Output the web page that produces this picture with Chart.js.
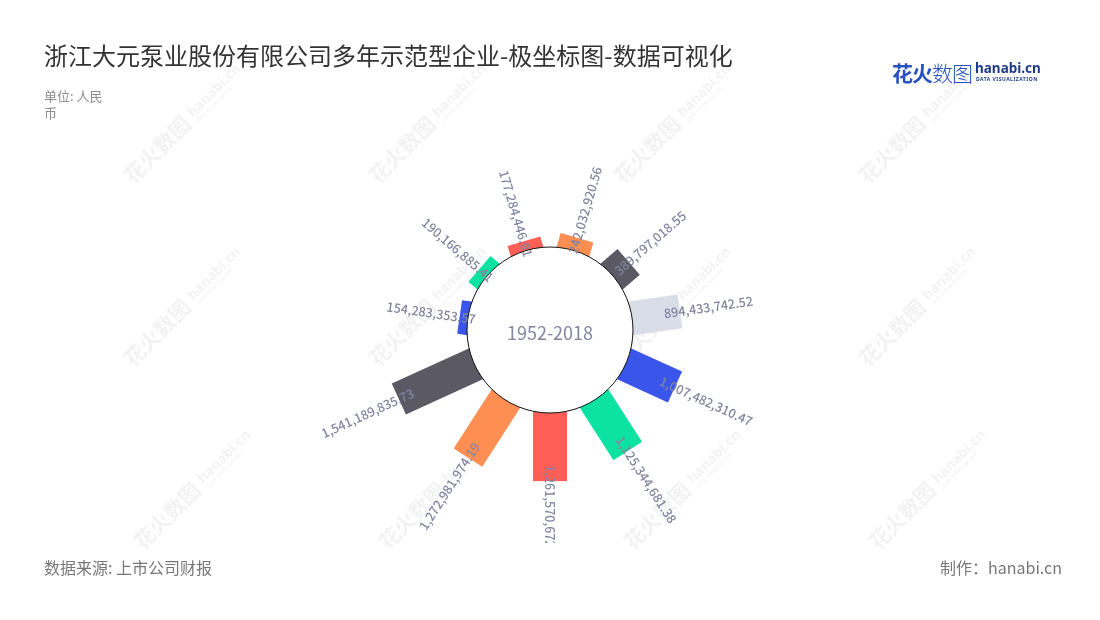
<!DOCTYPE html>
<html lang="zh">
<head>
<meta charset="utf-8">
<title>浙江大元泵业股份有限公司多年示范型企业-极坐标图</title>
<script src="https://cdn.jsdelivr.net/npm/chart.js@4.4.1/dist/chart.umd.min.js"></script>
<style>
  html, body { margin: 0; padding: 0; background: #fff; }
  body {
    width: 1100px; height: 620px; position: relative; overflow: hidden;
    font-family: "Noto Sans CJK SC", "Noto Sans", sans-serif;
  }
  #wrap { position: absolute; left: 0; top: 0; width: 1100px; height: 620px; }
  .txt { position: absolute; white-space: nowrap; }
  .title { left: 44px; top: 38px; font-size: 24px; line-height: 34px; color: #333; }
  .unit { left: 44px; top: 87px; width: 66px; font-size: 13px; line-height: 17px; color: #8c8c8c; white-space: normal; }
  .source { left: 44px; top: 556px; font-size: 16px; line-height: 22px; color: #777; }
  .maker { right: 38px; top: 556px; font-size: 16px; line-height: 22px; color: #777; }
  .logo-cn { left: 892px; top: 58px; font-size: 21px; line-height: 28px; color: #2a52be; font-weight: bold; letter-spacing: -1px; }
  .logo-cn span { font-weight: 300; }
  .logo-en { left: 975px; top: 59px; font-size: 13.5px; line-height: 18px; color: #1f3c88; font-weight: bold; font-family: "Noto Sans", sans-serif; }
  .logo-sub { left: 976px; top: 76px; font-size: 5px; line-height: 7px; color: #1f3c88; letter-spacing: 0.5px; font-family: "Noto Sans", sans-serif; font-weight: bold; }
</style>
</head>
<body>
<div id="wrap"><canvas id="polarChart"></canvas></div>
<div class="txt title">浙江大元泵业股份有限公司多年示范型企业-极坐标图-数据可视化</div>
<div class="txt unit">单位: 人民币</div>
<div class="txt source">数据来源: 上市公司财报</div>
<div class="txt maker">制作：hanabi.cn</div>
<div class="txt logo-cn">花火<span>数图</span></div>
<div class="txt logo-en">hanabi.cn</div>
<div class="txt logo-sub">DATA VISUALIZATION</div>
<script>
// Data, clockwise from 12 o'clock
const categories = ['1', '2', '3', '4', '5', '6', '7', '8', '9', '10', '11'];
const values = [
    242032920.56, 389797018.55, 894433742.52, 1007482310.47, 1125344681.38,
    1261570672.36, 1272981974.19, 1541189835.73, 154283353.57, 190166885.41,
    177284446.91
];
const barColors = [
    '#ff8e52', '#5b5a64', '#d9dde8', '#3a56ea', '#0ce2a1', '#ff5f57',
    '#ff8e52', '#5b5a64', '#3a56ea', '#0ce2a1', '#ff5f57'
];
const centerLabel = '1952-2018';

// radial axis range: value 0 sits on the inner circle
const R_MIN = -1537000000;
const R_MAX = 3463000000;
const BAR_WIDTH = 34;
const LABEL_COLOR = '#8385a0';

const ArcElement = Chart.registry.getElement('arc');
const PolarAreaController = Chart.registry.getController('polarArea');

// Straight radial bar instead of a wedge
class RadialBarElement extends ArcElement {
    static id = 'radialBar';
    draw(ctx) {
        const { x, y, startAngle, endAngle, outerRadius, options } = this;
        const base = (this.baseRadius || 0) - 5;
        if (outerRadius <= base) return;
        const mid = (startAngle + endAngle) / 2;
        ctx.save();
        ctx.translate(x, y);
        ctx.rotate(mid);
        ctx.fillStyle = options.backgroundColor;
        ctx.fillRect(base, -BAR_WIDTH / 2, outerRadius - base, BAR_WIDTH);
        ctx.restore();
    }
}

class RadialBarController extends PolarAreaController {
    static id = 'radialBar';
    static defaults = { dataElementType: 'radialBar' };
    updateElements(arcs, start, count, mode) {
        super.updateElements(arcs, start, count, mode);
        const scale = this._cachedMeta.rScale;
        const base = scale.getDistanceFromCenterForValue(0);
        for (let i = start; i < start + count; i++) {
            arcs[i].baseRadius = base;
        }
    }
}

Chart.register(RadialBarElement, RadialBarController);

function fmt(v) {
    return v.toLocaleString('en-US', { minimumFractionDigits: 2, maximumFractionDigits: 2 });
}

// Faint brand watermark behind the bars
const watermark = {
    id: 'watermark',
    beforeDatasetsDraw(chart) {
        const ctx = chart.ctx;
        ctx.save();
        ctx.fillStyle = 'rgba(0, 0, 0, 0.05)';
        for (let j = 0; j < 3; j++) {
            for (let i = 0; i < 4; i++) {
                ctx.save();
                ctx.translate(133 + 245 * i + (j === 2 ? 10 : 0), 185 + 183 * j);
                ctx.rotate(-Math.PI / 4);
                ctx.font = 'bold 21px "Noto Sans CJK SC"';
                ctx.textBaseline = 'alphabetic';
                ctx.fillText('花火数图', 0, 0);
                ctx.font = 'bold 14px "Noto Sans"';
                ctx.fillText('hanabi.cn', 90, -5);
                ctx.font = 'bold 4.5px "Noto Sans"';
                ctx.fillText('DATA VISUALIZATION', 91, 2);
                ctx.restore();
            }
        }
        ctx.restore();
    }
};

// Inner circle, center text and value labels
const decorations = {
    id: 'decorations',
    afterDatasetsDraw(chart) {
        const ctx = chart.ctx;
        const scale = chart.scales.r;
        const cx = scale.xCenter, cy = scale.yCenter;
        const base = scale.getDistanceFromCenterForValue(0);

        ctx.save();
        ctx.beginPath();
        ctx.arc(cx, cy, base, 0, Math.PI * 2);
        ctx.fillStyle = '#fff';
        ctx.fill();
        ctx.lineWidth = 1;
        ctx.strokeStyle = '#111';
        ctx.stroke();

        ctx.fillStyle = LABEL_COLOR;
        ctx.font = '18px "Noto Sans CJK SC"';
        ctx.textAlign = 'center';
        ctx.textBaseline = 'middle';
        ctx.fillText(centerLabel, cx, cy + 3);
        ctx.restore();

        const meta = chart.getDatasetMeta(0);
        ctx.save();
        ctx.beginPath();
        ctx.rect(0, 0, chart.width, 543);
        ctx.clip();
        ctx.fillStyle = LABEL_COLOR;
        ctx.font = '500 12.5px "Noto Sans CJK SC"';
        ctx.textBaseline = 'middle';
        meta.data.forEach((arc, i) => {
            const mid = (arc.startAngle + arc.endAngle) / 2;
            const r = arc.outerRadius - 16;
            const fromTop = mid + Math.PI / 2;
            ctx.save();
            ctx.translate(cx + Math.cos(mid) * r, cy + Math.sin(mid) * r);
            if (fromTop <= Math.PI + 0.01) {
                ctx.rotate(mid);
                ctx.textAlign = 'left';
            } else {
                ctx.rotate(mid + Math.PI);
                ctx.textAlign = 'right';
            }
            ctx.fillText(fmt(values[i]), 0, 0);
            ctx.restore();
        });
        ctx.restore();
    }
};

new Chart(document.getElementById('polarChart'), {
    type: 'radialBar',
    data: {
        labels: categories,
        datasets: [{
            data: values,
            backgroundColor: barColors,
            borderWidth: 0
        }]
    },
    options: {
        responsive: true,
        maintainAspectRatio: false,
        animation: false,
        layout: { padding: { top: 60, bottom: 20, left: 0, right: 0 } },
        plugins: {
            legend: { display: false },
            tooltip: { enabled: false }
        },
        scales: {
            r: {
                min: R_MIN,
                max: R_MAX,
                ticks: { display: false },
                grid: { display: false },
                angleLines: { display: false },
                pointLabels: { display: false }
            }
        }
    },
    plugins: [watermark, decorations]
});
</script>
</body>
</html>
